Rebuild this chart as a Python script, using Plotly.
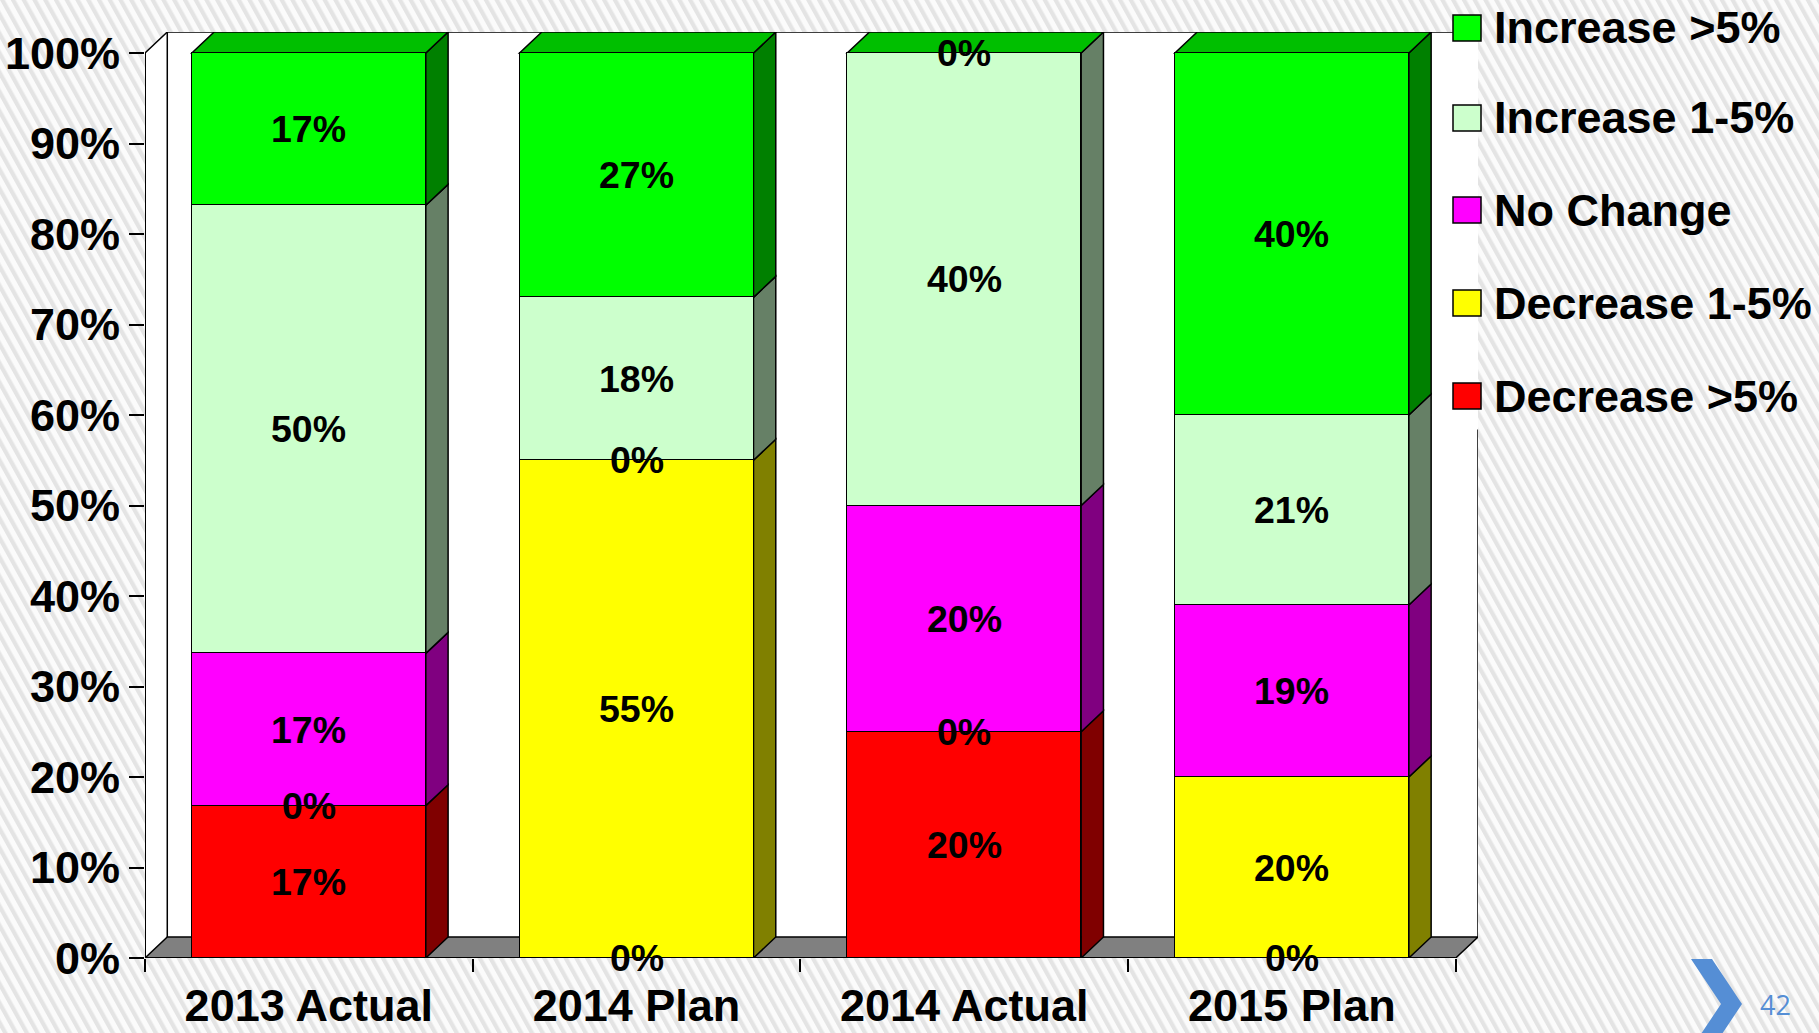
import base64
import plotly.graph_objects as go

# ---------------- data ----------------
categories = ["2013 Actual", "2014 Plan", "2014 Actual", "2015 Plan"]
series_names = ["Decrease >5%", "Decrease 1-5%", "No Change", "Increase 1-5%", "Increase >5%"]
decrease_gt5 = [17, 0, 20, 0]
decrease_1_5 = [0, 55, 0, 20]
no_change = [17, 0, 20, 19]
increase_1_5 = [50, 18, 40, 21]
increase_gt5 = [17, 27, 0, 40]
y_tick_values = [0, 10, 20, 30, 40, 50, 60, 70, 80, 90, 100]
page_number = "42"

# ---------------- style ----------------
front_colors = ["#FF0000", "#FFFF00", "#FF00FF", "#CCFFCC", "#00FF00"]
side_colors = ["#800000", "#808000", "#800080", "#668066", "#008000"]
top_color = "#00BF00"
FONT = "Liberation Sans"
BAR_W = 0.714
DX = 0.068      # depth offset in category units
DZ = 2.32       # depth offset in percent units

W, H = 1819, 1033
L, R, T, B = 145, 341, 32, 75
PW, PH = W - L - R, H - T - B


def fx(px):
    return (px - L) / PW


def fy(py):
    return (T + PH - py) / PH


series_values = [decrease_gt5, decrease_1_5, no_change, increase_1_5, increase_gt5]
n_cat = len(categories)
totals = [sum(s[i] for s in series_values) for i in range(n_cat)]
shares = [[v / t * 100 for v, t in zip(s, totals)] for s in series_values]

fig = go.Figure()

# bars (front faces)
for k, name in enumerate(series_names):
    fig.add_trace(go.Bar(
        x=categories, y=shares[k], name=name, width=BAR_W,
        marker=dict(color=front_colors[k], line=dict(color="black", width=1.5)),
        showlegend=False, hovertemplate="%{x}<br>" + name + "<extra></extra>",
    ))

annotations = []

# data labels (raw values, centred in their segments)
bottoms = [0.0] * n_cat
for k, name in enumerate(series_names):
    for i in range(n_cat):
        annotations.append(dict(
            xref="x", yref="y", x=categories[i], y=bottoms[i] + shares[k][i] / 2,
            showarrow=False, xanchor="center", yanchor="middle",
            text=f"{series_values[k][i]}%",
            font=dict(family=FONT, size=37.5, color="black", weight="bold"),
        ))
    bottoms = [bottoms[i] + shares[k][i] for i in range(n_cat)]

shapes = []
line_k = dict(color="black", width=1.5)
x0a, x1a = -0.5, n_cat - 0.5

# left side wall
shapes.append(dict(type="path", xref="x", yref="y", layer="below",
                   path=f"M{x0a},0 L{x0a + DX},{DZ} L{x0a + DX},{100 + DZ} L{x0a},100 Z",
                   fillcolor="white", line=dict(width=0)))
# back wall
shapes.append(dict(type="rect", xref="x", yref="y", layer="below",
                   x0=x0a + DX, x1=x1a + DX, y0=DZ, y1=100 + DZ,
                   fillcolor="white", line=dict(width=0)))
# back wall edges
shapes.append(dict(type="path", xref="x", yref="y", layer="below",
                   path=f"M{x0a},100 L{x0a + DX},{100 + DZ} L{x1a + DX},{100 + DZ}",
                   line=line_k))
shapes.append(dict(type="line", xref="x", yref="y", layer="below",
                   x0=x0a + DX, x1=x0a + DX, y0=DZ, y1=100 + DZ, line=line_k))
shapes.append(dict(type="line", xref="x", yref="y", layer="below",
                   x0=x1a + DX, x1=x1a + DX, y0=DZ, y1=58.4, line=line_k))
# floor
shapes.append(dict(type="path", xref="x", yref="y", layer="below",
                   path=f"M{x0a},0 L{x1a},0 L{x1a + DX},{DZ} L{x0a + DX},{DZ} Z",
                   fillcolor="#808080", line=line_k))
# axis lines
shapes.append(dict(type="line", xref="x", yref="y", layer="above",
                   x0=x0a, x1=x0a, y0=0, y1=100, line=dict(color="black", width=2)))
shapes.append(dict(type="line", xref="x", yref="y", layer="above",
                   x0=x0a, x1=x1a, y0=0, y1=0, line=dict(color="black", width=2)))

# 3D side and top faces of the bars
for i in range(n_cat):
    xr = i + BAR_W / 2
    xl = i - BAR_W / 2
    base = 0.0
    for k in range(len(series_names)):
        h = shares[k][i]
        if h > 0:
            y0, y1 = base, base + h
            shapes.append(dict(
                type="path", xref="x", yref="y", layer="below",
                path=f"M{xr},{y0} L{xr + DX},{y0 + DZ} L{xr + DX},{y1 + DZ} L{xr},{y1} Z",
                fillcolor=side_colors[k], line=line_k))
        base += h
    shapes.append(dict(
        type="path", xref="x", yref="y", layer="below",
        path=f"M{xl},{base} L{xr},{base} L{xr + DX},{base + DZ} L{xl + DX},{base + DZ} Z",
        fillcolor=top_color, line=line_k))

# manual legend (top entry = last series)
row_centres = [28, 118, 210, 303, 396]
for r, k in enumerate(reversed(range(len(series_names)))):
    cy = row_centres[r]
    shapes.append(dict(type="rect", xref="paper", yref="paper", layer="above",
                       x0=fx(1453), x1=fx(1481), y0=fy(cy + 13), y1=fy(cy - 13),
                       fillcolor=front_colors[k], line=dict(color="black", width=1.5)))
    annotations.append(dict(xref="paper", yref="paper", x=fx(1492), y=fy(cy),
                            xanchor="left", yanchor="middle", showarrow=False,
                            text=series_names[k],
                            font=dict(family=FONT, size=45, color="black", weight="bold")))

# slide decoration: chevron + page number
chev = [(1691, 959), (1712, 959), (1742, 1004), (1712, 1049), (1691, 1049), (1721, 1004)]
path = "M" + " L".join(f"{fx(px)},{fy(py)}" for px, py in chev) + " Z"
shapes.append(dict(type="path", xref="paper", yref="paper", layer="above", path=path,
                   fillcolor="#558ED5", line=dict(width=0)))
annotations.append(dict(xref="paper", yref="paper", x=fx(1775), y=fy(1004),
                        xanchor="center", yanchor="middle", showarrow=False,
                        text=page_number,
                        font=dict(family="Open Sans", size=27, color="#558ED5")))

# hatched slide background
svg = f'''<svg xmlns="http://www.w3.org/2000/svg" width="{W}" height="{H}" viewBox="0 0 {W} {H}" preserveAspectRatio="none">
<defs><pattern id="p" width="9.4" height="20" patternUnits="userSpaceOnUse" patternTransform="rotate(-29)">
<rect width="9.4" height="20" fill="#fbfbfb"/><rect width="4.2" height="20" fill="#e4e4e4"/></pattern></defs>
<rect width="{W}" height="{H}" fill="url(#p)"/></svg>'''
src = "data:image/svg+xml;base64," + base64.b64encode(svg.encode()).decode()

fig.update_layout(
    width=W, height=H,
    margin=dict(l=L, r=R, t=T, b=B, autoexpand=False),
    barmode="stack", bargap=0,
    paper_bgcolor="white", plot_bgcolor="rgba(0,0,0,0)",
    shapes=shapes, annotations=annotations,
    images=[dict(source=src, xref="paper", yref="paper", x=fx(0), y=fy(0),
                 sizex=W / PW, sizey=H / PH, xanchor="left", yanchor="top",
                 sizing="stretch", layer="below")],
    showlegend=False,
    font=dict(family=FONT, color="black"),
)
fig.update_xaxes(
    type="category", range=[x0a, x1a + DX], showgrid=False, zeroline=False, showline=False,
    tickson="boundaries", ticks="outside", ticklen=13, tickwidth=2, tickcolor="black",
    tickfont=dict(family=FONT, size=45, color="black", weight="bold"),
    ticklabelstandoff=17,
)
fig.update_yaxes(
    range=[0, 100 + DZ], showgrid=False, zeroline=False, showline=False,
    tickvals=y_tick_values, ticktext=[f"{v}%" for v in y_tick_values],
    ticks="outside", ticklen=15, tickwidth=2, tickcolor="black",
    tickfont=dict(family=FONT, size=45, color="black", weight="bold"),
    ticklabelstandoff=0,
)

fig.write_html("out.html", config={"displayModeBar": False},
               post_script="document.body.style.margin='0';document.body.style.overflow='hidden';")
